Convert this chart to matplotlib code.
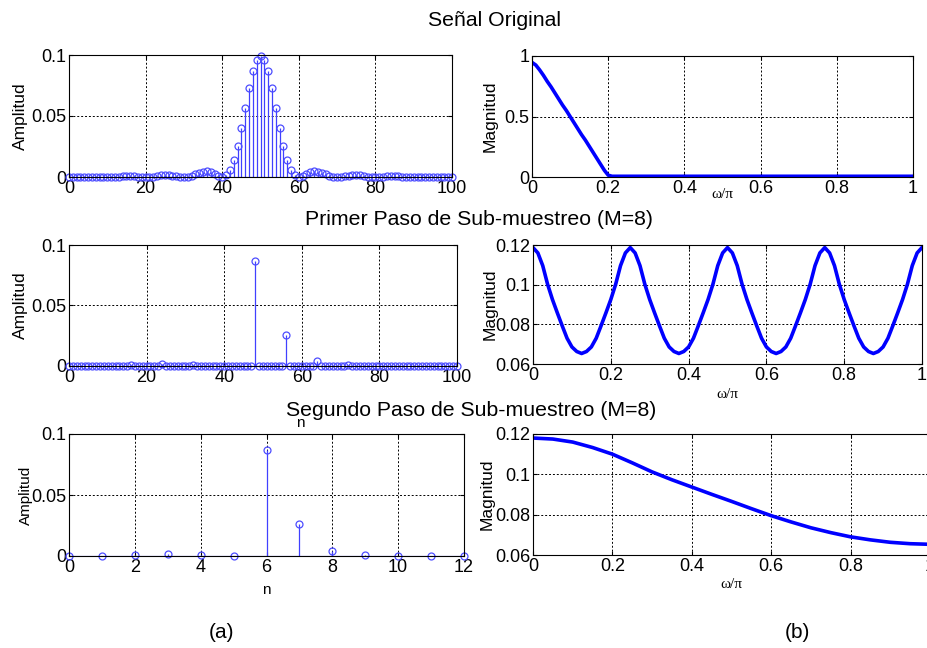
import numpy as np
import matplotlib
matplotlib.use('Agg')
import matplotlib.pyplot as plt

plt.rcParams['font.family'] = ['Liberation Sans', 'DejaVu Sans']

# ---- data ----
# original signal h[n], n = 0..100
n_orig = list(range(101))
h_orig = [0.0000, 0.0000, 0.0001, 0.0002, 0.0003, 0.0004, 0.0004, 0.0003, 0.0002, 0.0001,
          0.0000, 0.0001, 0.0002, 0.0004, 0.0006, 0.0007, 0.0007, 0.0005, 0.0003, 0.0001,
          0.0000, 0.0001, 0.0004, 0.0009, 0.0013, 0.0015, 0.0015, 0.0012, 0.0007, 0.0002,
          0.0000, 0.0003, 0.0011, 0.0022, 0.0035, 0.0044, 0.0046, 0.0039, 0.0024, 0.0008,
          0.0000, 0.0014, 0.0057, 0.0137, 0.0254, 0.0402, 0.0568, 0.0727, 0.0865, 0.0960,
          0.0990,
          0.0960, 0.0865, 0.0727, 0.0568, 0.0402, 0.0254, 0.0137, 0.0057, 0.0014, 0.0000,
          0.0008, 0.0024, 0.0039, 0.0046, 0.0044, 0.0035, 0.0022, 0.0011, 0.0003, 0.0000,
          0.0002, 0.0007, 0.0012, 0.0015, 0.0015, 0.0013, 0.0009, 0.0004, 0.0001, 0.0000,
          0.0001, 0.0003, 0.0005, 0.0007, 0.0007, 0.0006, 0.0004, 0.0002, 0.0001, 0.0000,
          0.0001, 0.0002, 0.0003, 0.0004, 0.0004, 0.0003, 0.0002, 0.0001, 0.0000, 0.0000]

# first step: every 8th sample kept, rest zero
h_primer = [0.0000, 0, 0, 0, 0, 0, 0, 0,
            0.0002, 0, 0, 0, 0, 0, 0, 0,
            0.0007, 0, 0, 0, 0, 0, 0, 0,
            0.0013, 0, 0, 0, 0, 0, 0, 0,
            0.0011, 0, 0, 0, 0, 0, 0, 0,
            0.0000, 0, 0, 0, 0, 0, 0, 0,
            0.0865, 0, 0, 0, 0, 0, 0, 0,
            0.0254, 0, 0, 0, 0, 0, 0, 0,
            0.0040, 0, 0, 0, 0, 0, 0, 0,
            0.0007, 0, 0, 0, 0, 0, 0, 0,
            0.0000, 0, 0, 0, 0, 0, 0, 0,
            0.0002, 0, 0, 0, 0, 0, 0, 0,
            0.0004, 0, 0, 0, 0]

# second step: compressed sequence
n_seg = list(range(13))
h_seg = [0.0000, 0.0002, 0.0007, 0.0013, 0.0011, 0.0000, 0.0865,
         0.0260, 0.0038, 0.0007, 0.0000, 0.0002, 0.0004]

# magnitude responses
w_orig = [0.00, 0.01, 0.02, 0.03, 0.04, 0.05, 0.06, 0.07, 0.08, 0.09, 0.10,
          0.11, 0.12, 0.13, 0.14, 0.15, 0.16, 0.17, 0.18, 0.19, 0.20, 0.21, 1.00]
mag_orig = [0.947, 0.925, 0.885, 0.840, 0.790, 0.745, 0.695, 0.645, 0.595, 0.550, 0.500,
            0.450, 0.400, 0.350, 0.305, 0.255, 0.205, 0.155, 0.105, 0.055, 0.015, 0.006, 0.006]

w_primer = [i * 0.0125 for i in range(81)]
mag_primer = [0.1187, 0.1160, 0.1096, 0.1002, 0.0925, 0.0858, 0.0793, 0.0730, 0.0686, 0.0663,
              0.0653, 0.0663, 0.0686, 0.0730, 0.0793, 0.0858, 0.0925, 0.1002, 0.1096, 0.1160,
              0.1187, 0.1160, 0.1096, 0.1002, 0.0925, 0.0858, 0.0793, 0.0730, 0.0686, 0.0663,
              0.0653, 0.0663, 0.0686, 0.0730, 0.0793, 0.0858, 0.0925, 0.1002, 0.1096, 0.1160,
              0.1187, 0.1160, 0.1096, 0.1002, 0.0925, 0.0858, 0.0793, 0.0730, 0.0686, 0.0663,
              0.0653, 0.0663, 0.0686, 0.0730, 0.0793, 0.0858, 0.0925, 0.1002, 0.1096, 0.1160,
              0.1187, 0.1160, 0.1096, 0.1002, 0.0925, 0.0858, 0.0793, 0.0730, 0.0686, 0.0663,
              0.0653, 0.0663, 0.0686, 0.0730, 0.0793, 0.0858, 0.0925, 0.1002, 0.1096, 0.1160,
              0.1187]

w_seg = [i * 0.05 for i in range(21)]
mag_seg = [0.1180, 0.1175, 0.1160, 0.1133, 0.1100, 0.1057, 0.1012, 0.0973, 0.0937, 0.0901,
           0.0866, 0.0830, 0.0795, 0.0764, 0.0735, 0.0711, 0.0690, 0.0675, 0.0663, 0.0656,
           0.0653]

amp_ticks = [0, 0.05, 0.1]
amp_labels = ['0', '0.05', '0.1']
w_ticks = [0, 0.2, 0.4, 0.6, 0.8, 1]
w_labels = ['0', '0.2', '0.4', '0.6', '0.8', '1']
mag_ticks = [0.06, 0.08, 0.1, 0.12]
mag_labels = ['0.06', '0.08', '0.1', '0.12']

W, H = 927, 648
TICK_FS = 13
TITLE_FS = 15.3


def box(x0, y0, x1, y1):
    # pixel box (top-left origin) -> figure fraction
    return [x0 / W, 1 - y1 / H, (x1 - x0) / W, (y1 - y0) / H]


def style(ax):
    ax.grid(True, linestyle=(0, (2, 2)), color='k', linewidth=0.7)
    ax.tick_params(direction='in', top=True, right=True, length=3,
                   labelsize=TICK_FS, pad=2)
    for s in ax.spines.values():
        s.set_linewidth(0.8)


def stem(ax, x, y):
    ml, sl, bl = ax.stem(x, y, linefmt='b-', markerfmt='bo', basefmt='b-')
    ml.set_markerfacecolor('none')
    ml.set_markeredgecolor((0.3, 0.3, 1.0))
    ml.set_markersize(5)
    ml.set_markeredgewidth(0.9)
    ml.set_clip_on(False)
    sl.set_linewidth(0.9)
    sl.set_color((0.25, 0.25, 1.0))
    bl.set_linewidth(0.8)


fig = plt.figure(figsize=(W / 100, H / 100), dpi=100)

# top left
ax1 = fig.add_axes(box(69, 55, 452, 177))
stem(ax1, n_orig, h_orig)
ax1.set_xlim(0, 100)
ax1.set_ylim(0, 0.1)
ax1.set_xticks(range(0, 101, 20))
ax1.set_yticks(amp_ticks, amp_labels)
ax1.set_ylabel('Amplitud', fontsize=12.5, labelpad=2)
style(ax1)

# top right
ax2 = fig.add_axes(box(532, 56, 913, 177))
ax2.plot(w_orig, mag_orig, color='b', linewidth=2.6)
ax2.set_xlim(0, 1)
ax2.set_ylim(0, 1)
ax2.set_xticks(w_ticks, w_labels)
ax2.set_yticks([0, 0.5, 1], ['0', '0.5', '1'])
ax2.set_ylabel('Magnitud', fontsize=12.5, labelpad=5)
ax2.set_xlabel('ω/π', fontfamily='Liberation Serif', fontsize=11, labelpad=-6)
style(ax2)

# middle left
ax3 = fig.add_axes(box(69, 245, 457, 366))
stem(ax3, n_orig, h_primer)
ax3.set_xlim(0, 100)
ax3.set_ylim(0, 0.1)
ax3.set_xticks(range(0, 101, 20))
ax3.set_yticks(amp_ticks, amp_labels)
ax3.set_ylabel('Amplitud', fontsize=12.5, labelpad=2)
ax3.set_xlabel('n', fontsize=11, labelpad=22)
ax3.xaxis.label.set_x((300 - 69) / 388)
style(ax3)

# middle right
ax4 = fig.add_axes(box(533, 245, 922, 364))
ax4.plot(w_primer, mag_primer, color='b', linewidth=2.6)
ax4.set_xlim(0, 1)
ax4.set_ylim(0.06, 0.12)
ax4.set_xticks(w_ticks, w_labels)
ax4.set_yticks(mag_ticks, mag_labels)
ax4.set_ylabel('Magnitud', fontsize=12.5, labelpad=-2)
ax4.set_xlabel('ω/π', fontfamily='Liberation Serif', fontsize=11, labelpad=3)
style(ax4)

# bottom left
ax5 = fig.add_axes(box(69, 434, 464, 556))
stem(ax5, n_seg, h_seg)
ax5.set_xlim(0, 12)
ax5.set_ylim(0, 0.1)
ax5.set_xticks(range(0, 13, 2))
ax5.set_yticks(amp_ticks, amp_labels)
ax5.set_ylabel('Amplitud', fontsize=11, labelpad=-1)
ax5.set_xlabel('n', fontsize=11, labelpad=5)
style(ax5)

# bottom right
ax6 = fig.add_axes(box(533, 434, 930, 555))
ax6.plot(w_seg, mag_seg, color='b', linewidth=2.6)
ax6.set_xlim(0, 1)
ax6.set_ylim(0.06, 0.12)
ax6.set_xticks(w_ticks, w_labels)
ax6.set_yticks(mag_ticks, mag_labels)
ax6.set_ylabel('Magnitud', fontsize=12.5, labelpad=0)
ax6.set_xlabel('ω/π', fontfamily='Liberation Serif', fontsize=11, labelpad=2)
style(ax6)

fig.text(495 / W, 1 - 21 / H, 'Señal Original', ha='center', va='center', fontsize=TITLE_FS)
fig.text(479 / W, 1 - 219 / H, 'Primer Paso de Sub-muestreo (M=8)',
         ha='center', va='center', fontsize=TITLE_FS)
fig.text(471 / W, 1 - 410 / H, 'Segundo Paso de Sub-muestreo (M=8)',
         ha='center', va='center', fontsize=TITLE_FS)
fig.text(222 / W, 1 - 632 / H, '(a)', ha='center', va='center', fontsize=15)
fig.text(797 / W, 1 - 632 / H, '(b)', ha='center', va='center', fontsize=15)

fig.savefig('out.png', dpi=100)
